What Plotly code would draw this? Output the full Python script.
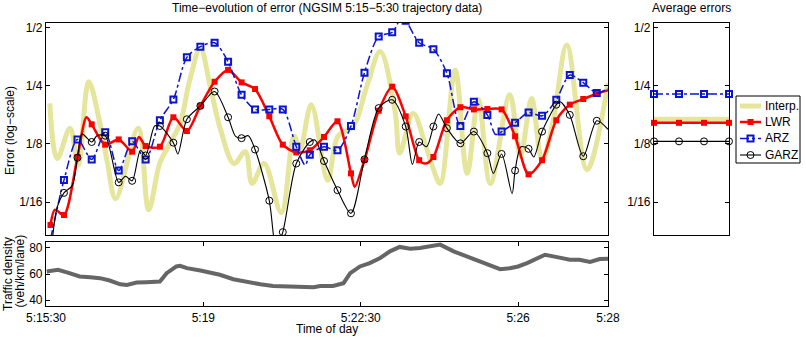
import plotly.graph_objects as go
import math

# ---------------- data ----------------
# time in seconds after 5:15:30
MARKER_T = [6, 24, 42, 61, 79, 97, 115, 133, 152, 170, 188, 206, 225, 243, 261, 279,
            298, 316, 334, 352, 371, 389, 407, 425, 444, 462, 480, 498, 517, 535, 553,
            571, 589, 608, 626, 644, 662, 681, 699, 717, 735]

interp_t = [5, 15, 32, 43, 57, 72, 82, 93, 123, 137, 152, 165, 179, 192, 206, 219, 233,
            251, 266, 275, 291, 314, 331, 339, 354, 376, 390, 410, 428, 446, 466, 472,
            490, 506, 516, 526, 546, 562, 577, 593, 619, 633, 648, 662, 677, 695, 722, 750]
interp_v = [0.203, 0.105, 0.151, 0.097, 0.263, 0.16, 0.10, 0.065, 0.151, 0.057, 0.10, 0.125,
            0.16, 0.27, 0.392, 0.25, 0.148, 0.099, 0.114, 0.078, 0.099, 0.055, 0.137, 0.118,
            0.200, 0.081, 0.138, 0.154, 0.248, 0.377, 0.183, 0.112, 0.180, 0.125, 0.095, 0.078,
            0.303, 0.088, 0.212, 0.078, 0.225, 0.108, 0.215, 0.103, 0.166, 0.408, 0.092, 0.258]

lwr_t = [6, 12, 24, 42, 54, 61, 79, 97, 115, 124, 133, 152, 170, 188, 206, 225, 243, 261,
         279, 298, 316, 334, 352, 371, 389, 407, 412, 425, 444, 462, 480, 498, 507, 517,
         535, 553, 571, 589, 608, 626, 644, 662, 681, 699, 717, 735, 750]
lwr_v = [0.0475, 0.057, 0.0535, 0.107, 0.172, 0.158, 0.124, 0.132, 0.114, 0.136, 0.122,
         0.121, 0.172, 0.146, 0.197, 0.263, 0.303, 0.261, 0.241, 0.174, 0.124, 0.113, 0.116,
         0.136, 0.164, 0.088, 0.075, 0.103, 0.186, 0.248, 0.174, 0.103, 0.099, 0.107, 0.166,
         0.194, 0.189, 0.190, 0.189, 0.137, 0.087, 0.103, 0.166, 0.200, 0.214, 0.228, 0.238]

arz_t = [6, 24, 42, 61, 79, 97, 115, 133, 152, 170, 188, 206, 225, 243, 261, 279, 298, 316,
         334, 346, 352, 371, 389, 407, 425, 444, 462, 474, 480, 498, 517, 535, 553, 571, 589,
         600, 608, 626, 644, 662, 681, 699, 717, 735, 750]
arz_v = [0.040, 0.0812, 0.132, 0.104, 0.144, 0.091, 0.129, 0.104, 0.166, 0.213, 0.352,
         0.400, 0.419, 0.334, 0.225, 0.189, 0.189, 0.189, 0.121, 0.097, 0.110, 0.121, 0.116,
         0.155, 0.293, 0.451, 0.475, 0.56, 0.545, 0.419, 0.388, 0.291, 0.155, 0.207, 0.177,
         0.140, 0.145, 0.161, 0.182, 0.175, 0.212, 0.285, 0.260, 0.230, 0.243]

garz_t = [6, 15, 24, 35, 42, 48, 61, 68, 79, 97, 106, 115, 126, 133, 145, 152, 170, 176,
          188, 206, 225, 243, 253, 261, 270, 279, 298, 307, 316, 334, 352, 359, 371, 389,
          407, 425, 444, 462, 480, 489, 498, 508, 517, 524, 535, 553, 571, 589, 597, 608,
          622, 626, 634, 644, 651, 662, 681, 686, 699, 717, 735, 750]
garz_v = [0.032, 0.059, 0.0697, 0.076, 0.106, 0.141, 0.128, 0.138, 0.138, 0.079, 0.085,
          0.0805, 0.116, 0.109, 0.155, 0.155, 0.127, 0.111, 0.168, 0.197, 0.234, 0.172,
          0.137, 0.134, 0.138, 0.117, 0.0635, 0.036, 0.0436, 0.099, 0.128, 0.131, 0.102,
          0.072, 0.0546, 0.104, 0.192, 0.212, 0.154, 0.098, 0.128, 0.121, 0.154, 0.179,
          0.151, 0.126, 0.145, 0.112, 0.088, 0.111, 0.069, 0.091, 0.121, 0.118, 0.107,
          0.145, 0.200, 0.207, 0.177, 0.108, 0.165, 0.149]

avg_x = [1, 2, 3, 4]
avg_interp = 0.168
avg_lwr = 0.161
avg_arz = 0.2275
avg_garz = 0.129

dens_t = [1, 16, 28, 45, 59, 72, 85, 99, 108, 121, 134, 148, 152, 161, 174, 179, 188, 206,
          214, 232, 250, 268, 286, 303, 321, 339, 357, 366, 383, 397, 406, 419, 432, 446,
          459, 472, 486, 499, 508, 526, 544, 561, 579, 593, 606, 619, 630, 642, 655, 666,
          682, 699, 712, 726, 739, 750]
dens_v = [61.9, 63.2, 61.2, 58.1, 57.5, 56.8, 55.0, 52.1, 51.6, 53.4, 53.7, 54.2, 54.2,
          60.6, 65.8, 66.3, 64.5, 62.7, 61.9, 59.4, 56.0, 53.7, 52.1, 50.8, 50.3, 50.3,
          49.8, 50.8, 50.8, 52.9, 60.6, 65.8, 68.4, 72.3, 77.4, 80.8, 79.5, 80.0, 80.8, 82.6,
          77.4, 73.5, 69.7, 66.3, 63.7, 64.5, 65.8, 68.4, 72.3, 74.8, 73.0, 71.0, 71.0, 69.2,
          71.5, 71.7]

x_tick_vals = [0, 210, 420, 630, 750]
x_tick_text = ["5:15:30", "5:19", "5:22:30", "5:26", "5:28"]
err_tick_vals = [1 / 16, 1 / 8, 1 / 4, 1 / 2]
err_tick_text = ["1/16", "1/8", "1/4", "1/2"]
dens_tick_vals = [40, 60, 80]
legend_names = ["Interp.", "LWR", "ARZ", "GARZ"]

# ---------------- style ----------------
W, H = 806, 339
FONT = "Liberation Sans, Arial, sans-serif"
KHAKI = "#e6e59c"
RED = "#ff0000"
BLUE = "#0a14d2"
BLACK = "#000000"
GRAY = "#666666"

STYLES = {
    "Interp.": dict(mode="lines", line=dict(color=KHAKI, width=5)),
    "LWR": dict(mode="lines+markers", line=dict(color=RED, width=2.5),
                marker=dict(symbol="square", size=6, color=RED)),
    "ARZ": dict(mode="lines+markers", line=dict(color=BLUE, width=1.5, dash="dashdot"),
                marker=dict(symbol="square-open", size=6, color=BLUE,
                            line=dict(width=2, color=BLUE))),
    "GARZ": dict(mode="lines+markers", line=dict(color=BLACK, width=1.1),
                 marker=dict(symbol="circle-open", size=7, color=BLACK,
                             line=dict(width=1, color=BLACK))),
}


def px(x):
    return x / W


def py(y):
    return 1 - y / H


def markers_of(t, v):
    mt, mv = [], []
    for a, b in zip(t, v):
        if a in MARKER_T:
            mt.append(a)
            mv.append(b)
    return mt, mv


fig = go.Figure()

# main panel: smooth lines, markers on the marker grid
series = [("Interp.", interp_t, interp_v, 1.0),
          ("LWR", lwr_t, lwr_v, 0.8),
          ("ARZ", arz_t, arz_v, 0.8),
          ("GARZ", garz_t, garz_v, 0.8)]
for name, t, v, sm in series:
    st = STYLES[name]
    line = dict(st["line"])
    line.update(shape="spline", smoothing=sm)
    fig.add_trace(go.Scatter(x=t, y=v, mode="lines", line=line, showlegend=False,
                             xaxis="x", yaxis="y", hoverinfo="skip"))
    if "marker" in st:
        mt, mv = markers_of(t, v)
        fig.add_trace(go.Scatter(x=mt, y=mv, mode="markers", marker=st["marker"],
                                 showlegend=False, xaxis="x", yaxis="y"))

# density panel
fig.add_trace(go.Scatter(x=dens_t, y=dens_v, mode="lines", showlegend=False,
                         line=dict(color=GRAY, width=4), xaxis="x2", yaxis="y2"))

# average errors panel
for name, val in zip(legend_names, [avg_interp, avg_lwr, avg_arz, avg_garz]):
    st = STYLES[name]
    fig.add_trace(go.Scatter(x=avg_x, y=[val] * len(avg_x), cliponaxis=False,
                             showlegend=False, xaxis="x3", yaxis="y3", **st))

# hand-made legend (pixel-unit helper axis over the legend box)
leg_rows = [106, 122, 138.5, 155]
for name, yrow in zip(legend_names, leg_rows):
    st = dict(STYLES[name])
    st["mode"] = "lines"
    fig.add_trace(go.Scatter(x=[740, 761], y=[yrow, yrow], showlegend=False,
                             xaxis="x4", yaxis="y4", cliponaxis=False, hoverinfo="skip",
                             **st))
    if "marker" in STYLES[name]:
        fig.add_trace(go.Scatter(x=[750.5], y=[yrow], mode="markers",
                                 marker=STYLES[name]["marker"], showlegend=False,
                                 xaxis="x4", yaxis="y4", cliponaxis=False, hoverinfo="skip"))

main_x = [px(46), px(608)]
main_y = [py(235), py(23)]
dens_y = [py(306), py(242)]
right_x = [px(654), px(729)]
log_range = [math.log10(2 ** -4.569), math.log10(2 ** -0.914)]

base = dict(showline=True, linecolor="black", linewidth=1.2, mirror=True,
            showgrid=False, zeroline=False, automargin=False,
            tickfont=dict(family=FONT, size=12, color="black"))
ticked = dict(base, mirror="allticks", ticks="inside", ticklen=4, tickcolor="black",
              tickwidth=1)

fig.update_layout(
    width=W, height=H, autosize=False,
    margin=dict(l=0, r=0, t=0, b=0, pad=0),
    paper_bgcolor="white", plot_bgcolor="white",
    font=dict(family=FONT, size=12, color="black"),
    showlegend=False,
    xaxis=dict(base, domain=main_x, anchor="y", range=[0, 750], showticklabels=False,
               ticks=""),
    yaxis=dict(ticked, domain=main_y, anchor="x", type="log", range=log_range,
               tickvals=err_tick_vals, ticktext=err_tick_text),
    xaxis2=dict(ticked, domain=main_x, anchor="y2", range=[0, 750], tickvals=x_tick_vals,
                ticktext=x_tick_text),
    yaxis2=dict(ticked, domain=dens_y, anchor="x2", range=[35.4, 84.6],
                tickvals=dens_tick_vals),
    xaxis3=dict(base, domain=right_x, anchor="y3", range=[1, 4], showticklabels=False,
                ticks=""),
    yaxis3=dict(ticked, domain=main_y, anchor="x3", type="log", range=log_range,
                tickvals=err_tick_vals, ticktext=err_tick_text),
    xaxis4=dict(domain=[px(736), px(800)], anchor="y4", range=[736, 800], visible=False,
                automargin=False),
    yaxis4=dict(domain=[py(163), py(96)], anchor="x4", range=[163, 96], visible=False,
                automargin=False),
    shapes=[dict(type="rect", xref="paper", yref="paper", x0=px(736), x1=px(800),
                 y0=py(163), y1=py(96), line=dict(color="black", width=1),
                 fillcolor="white", layer="below")],
)

ann = [
    dict(text="Time\u2212evolution of error (NGSIM 5:15\u22125:30 trajectory data)",
         x=px(327), y=py(8)),
    dict(text="Average errors", x=px(691), y=py(8)),
    dict(text="Error (log\u2212scale)", x=px(10), y=py(131), textangle=-90),
    dict(text="Traffic density", x=px(8), y=py(274), textangle=-90),
    dict(text="(veh/km/lane)", x=px(19.5), y=py(271), textangle=-90),
    dict(text="Time of day", x=px(327), y=py(329)),
]
for a in ann:
    a.update(xanchor="center", yanchor="middle")
for name, yrow in zip(legend_names, leg_rows):
    ann.append(dict(text=name, x=px(763), y=py(yrow), xanchor="left", yanchor="middle"))
for a in ann:
    a.update(xref="paper", yref="paper", showarrow=False,
             font=dict(family=FONT, size=12, color="black"))
fig.update_layout(annotations=ann)

fig.write_html("out.html", config={"displayModeBar": False},
               post_script="document.body.style.margin='0';")
